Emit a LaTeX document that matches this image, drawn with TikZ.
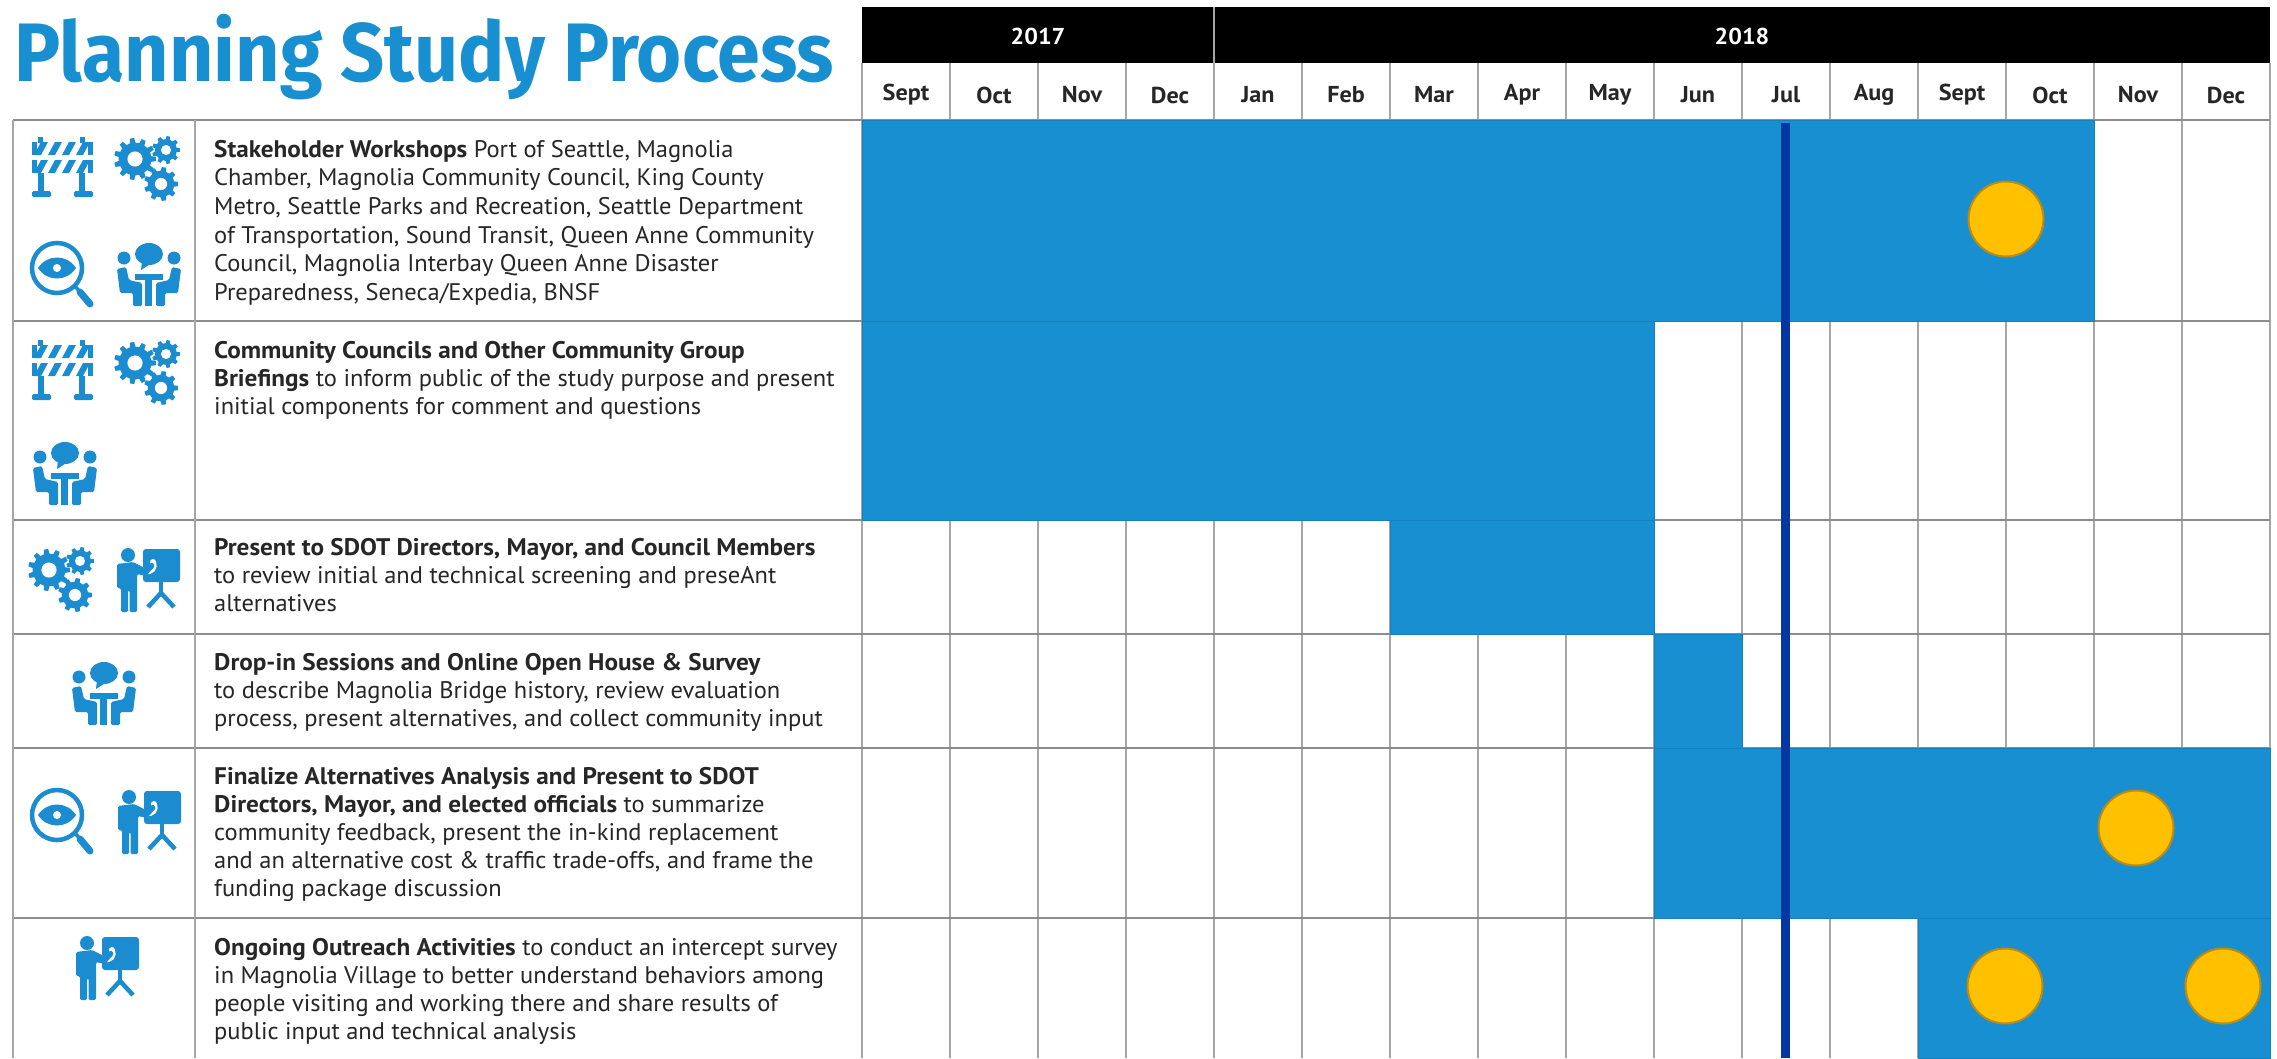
\documentclass[tikz,border=0pt]{standalone}
\usepackage{fontspec}
\setmainfont{PT Sans}[FakeStretch=1.02,BoldFeatures={FakeStretch=1.05}]
\newfontfamily\titlefont{Fira Sans}[BoldFeatures={FakeStretch=0.93}]
\definecolor{iconblue}{HTML}{1A8CCF}
\definecolor{barblue}{HTML}{178FD0}
\definecolor{baredge}{HTML}{1680BD}
\definecolor{todayblue}{HTML}{0537A3}
\definecolor{gridgray}{HTML}{A6A6A6}
\definecolor{dotfill}{HTML}{FFC000}
\definecolor{dotedge}{HTML}{BD8C0F}
\newcommand{\gearat}[4]{%
  \fill[iconblue] (#1,#2) circle[radius=0.78*#3];
  \pgfmathsetmacro{\gstep}{360/#4}
  \foreach \i in {1,...,#4}{%
    \pgfmathsetmacro{\ga}{\i*\gstep}
    \fill[iconblue,shift={(#1,#2)}] ({\ga-\gstep*0.36}:{0.7*#3}) -- ({\ga-\gstep*0.18}:{#3}) -- ({\ga+\gstep*0.18}:{#3}) -- ({\ga+\gstep*0.36}:{0.7*#3}) -- cycle;
  }
  \fill[white] (#1,#2) circle[radius=0.36*#3];
}
\tikzset{
  x=1pt,y=-1pt,
  gridline/.style={draw=gridgray,line width=1.2pt},
  rowline/.style={draw=gridgray!85!black,line width=1.8pt},
  barfill/.style={fill=barblue,draw=baredge,line width=1pt},
  rowtext/.style={anchor=north west,inner sep=0pt,align=left,text=black!85,font=\fontsize{24}{28}\selectfont},
  monthlabel/.style={inner sep=0pt,text=black!85,font=\fontsize{23}{28}\selectfont\bfseries},
  yearlabel/.style={inner sep=0pt,text=white,font=\fontsize{23}{28}\selectfont\bfseries},
  milestone/.style={circle,minimum size=75pt,inner sep=0pt,fill=dotfill,draw=dotedge,line width=2pt},
  pics/gearsicon/.style={code={
    \gearat{21}{22}{21}{11}
    \gearat{52}{13}{14}{9}
    \gearat{47}{47}{17}{9}
  }},
  pics/barricade/.style={code={
    \fill[iconblue] (6,0) rectangle (11,6);
    \fill[iconblue] (48,0) rectangle (53,6);
    \foreach \bx in {2,16,30,44}{
      \foreach \by in {5,23}{
        \fill[iconblue] (\bx,\by+13) -- (\bx+7,\by) -- (\bx+14,\by) -- (\bx+7,\by+13) -- cycle;
      }
    }
    \fill[iconblue] (0,5) rectangle (5,18);
    \fill[iconblue] (56,5) rectangle (61,18);
    \fill[iconblue] (0,23) rectangle (5,36);
    \fill[iconblue] (56,23) rectangle (61,36);
    \fill[iconblue] (6,36) rectangle (12,56);
    \fill[iconblue] (47,36) rectangle (53,56);
    \fill[iconblue,rounded corners=1.5pt] (0,54) rectangle (19,60);
    \fill[iconblue,rounded corners=1.5pt] (42,54) rectangle (61,60);
  }},
  pics/lens/.style={code={
    \draw[iconblue,line width=4.5pt] (27,27) circle[radius=25];
    \draw[iconblue,line width=3.5pt] (45,45) -- (50,51);
    \draw[iconblue,line width=7pt,line cap=round] (50,51) -- (60,63);
    \fill[iconblue] (8,27) .. controls (17,13) and (37,13) .. (46,27) .. controls (37,41) and (17,41) .. (8,27) -- cycle;
    \fill[white] (27,27) circle[radius=4];
  }},
  pics/meeting/.style={code={
    \fill[iconblue] (32,10) ellipse[x radius=14,y radius=11];
    \fill[iconblue] (25,17) -- (35,19) -- (24,26) -- cycle;
    \fill[iconblue] (7,14) circle[radius=6.5];
    \fill[iconblue] (57,14) circle[radius=6.5];
    \fill[iconblue] (18,30) rectangle (46,36);
    \fill[iconblue] (28,36) rectangle (35,62);
    \fill[iconblue,rounded corners=1.5pt] (0,25) -- (9,23) -- (12,36) -- (25,39) -- (25,62) -- (16,62) -- (16,49) -- (3,49) -- cycle;
    \fill[iconblue,rounded corners=1.5pt] (64,25) -- (55,23) -- (52,36) -- (39,39) -- (39,62) -- (48,62) -- (48,49) -- (61,49) -- cycle;
  }},
  pics/presenter/.style={code={
    \fill[iconblue,rounded corners=3pt] (26,1) rectangle (63,34);
    \draw[iconblue,line width=4pt] (44,34) -- (44,48);
    \draw[iconblue,line width=4.5pt] (44,45) -- (31,59);
    \draw[iconblue,line width=4.5pt] (44,45) -- (57,59);
    \fill[iconblue] (11,7) circle[radius=7];
    \draw[white,line width=6pt,line cap=round] (15,20) -- (28,23) .. controls (35,24) and (38,20) .. (36,14);
    \fill[iconblue,rounded corners=1.5pt] (0,16) -- (16,14) -- (28,20) -- (35,14) -- (38,18) -- (29,28) -- (20,26) -- (20,64) -- (12.5,64) -- (12.5,42) -- (11,42) -- (11,64) -- (4,64) -- (4,40) -- (0,40) -- cycle;
  }}
}
\begin{document}
\begin{tikzpicture}
\useasboundingbox (0,0) rectangle (2277,1058);
\fill[white] (0,0) rectangle (2277,1058);

% vertical month lines
\foreach \c in {0,...,16}{
  \draw[gridline] ({862+88*\c},63) -- ({862+88*\c},1058);
}
% row lines
\foreach \ry in {120,321,520,634,748,918}{
  \draw[rowline] (13,\ry) -- (2270,\ry);
}
\draw[gridline] (13,120) -- (13,1058);
\draw[gridline] (195,120) -- (195,1058);

% header
\fill[black] (862,7) rectangle (2270,63);
\draw[gridgray,line width=1.2pt] (1214,7) -- (1214,63);

% bars
\draw[barfill] (862,120) rectangle (2094,321);
\draw[barfill] (862,321) rectangle (1654,520);
\draw[barfill] (1390,520) rectangle (1654,634);
\draw[barfill] (1654,634) rectangle (1742,748);
\draw[barfill] (1654,748) rectangle (2270,918);
\draw[barfill] (1918,918) rectangle (2270,1058);

% today line
\fill[todayblue] (1781,123) rectangle (1790,1058);

% milestones
\node[milestone] (m1) at (2006,219) {};
\node[milestone] (m2) at (2136,828) {};
\node[milestone] (m3) at (2005,986) {};
\node[milestone] (m4) at (2223,986) {};

% title
\node[anchor=base west,inner sep=0pt,text=barblue,font=\titlefont\bfseries\fontsize{83}{90}\selectfont] (title) at (14,81) {Planning Study Process};

% years
\node[yearlabel] (y17) at (1038,36) {2017};
\node[yearlabel] (y18) at (1742,36) {2018};

% months
\foreach \lab [count=\k from 0] in {Sept,Oct,Nov,Dec,Jan,Feb,Mar,Apr,May,Jun,Jul,Aug,Sept,Oct,Nov,Dec}{
  \node[monthlabel] (mon\k) at ({906+88*\k},95) {\lab};
}

% row texts
\node[rowtext,font=\fontsize{24}{28.6}\selectfont] (t1) at (214,140) {\textbf{Stakeholder Workshops} Port of Seattle, Magnolia\\Chamber, Magnolia Community Council, King County\\Metro, Seattle Parks and Recreation, Seattle Department\\of Transportation, Sound Transit, Queen Anne Community\\Council, Magnolia Interbay Queen Anne Disaster\\Preparedness, Seneca/Expedia, BNSF};
\node[rowtext] (t2) at (214,341) {\textbf{Community Councils and Other Community Group}\\\textbf{Briefings} to inform public of the study purpose and present\\initial components for comment and questions};
\node[rowtext] (t3) at (214,538.5) {\textbf{Present to SDOT Directors, Mayor, and Council Members}\\to review initial and technical screening and preseAnt\\alternatives};
\node[rowtext] (t4) at (214,653.5) {\textbf{Drop-in Sessions and Online Open House \& Survey}\\to describe Magnolia Bridge history, review evaluation\\process, present alternatives, and collect community input};
\node[rowtext] (t5) at (214,767.5) {\textbf{Finalize Alternatives Analysis and Present to SDOT}\\\textbf{Directors, Mayor, and elected officials} to summarize\\community feedback, present the in-kind replacement\\and an alternative cost \& traffic trade-offs, and frame the\\funding package discussion};
\node[rowtext] (t6) at (214,938.5) {\textbf{Ongoing Outreach Activities} to conduct an intercept survey\\in Magnolia Village to better understand behaviors among\\people visiting and working there and share results of\\public input and technical analysis};

% icons
\pic at (32,137) {barricade};
\pic at (114,137) {gearsicon};
\pic at (30,241) {lens};
\pic at (117,244) {meeting};
\pic at (32,340) {barricade};
\pic at (114,341) {gearsicon};
\pic at (33,443) {meeting};
\pic at (28,548) {gearsicon};
\pic at (117,548) {presenter};
\pic at (72,663) {meeting};
\pic at (30,788) {lens};
\pic at (118,790) {presenter};
\pic at (76,936) {presenter};
\end{tikzpicture}
\end{document}
